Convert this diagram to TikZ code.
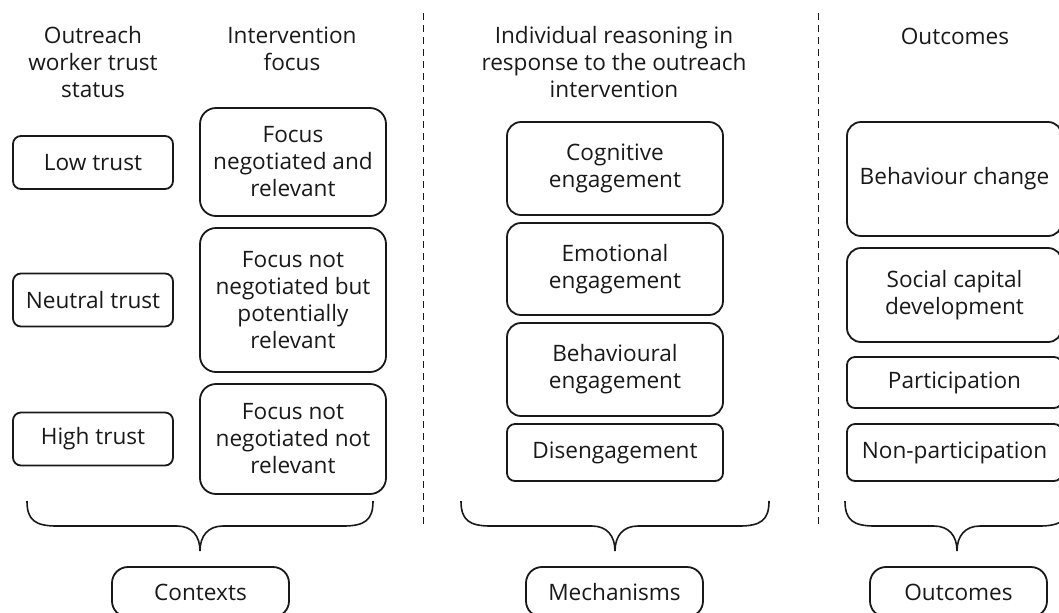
\documentclass[tikz,border=0pt]{standalone}
\usepackage{fontspec}
\setmainfont{Open Sans}
\begin{document}
\begin{tikzpicture}[x=0.5pt,y=-0.5pt,
  every node/.style={font=\fontsize{11.3}{13.5}\selectfont, text=black!90, align=center, inner sep=0pt},
  box/.style={draw=black!90, line width=0.9pt, rounded corners=#1},
  box/.default=5pt,
  hdr/.style={},
  sep/.style={draw=black!90, line width=0.9pt, dash pattern=on 3.5pt off 2.5pt},
  brace/.style={draw=black!90, line width=0.8pt}]
\useasboundingbox (0,0) rectangle (1059,612);
\clip (0,0) rectangle (1059,612);
% headers
\node[hdr] (h1) at (93,62) {Outreach\\worker trust\\status};
\node[hdr] (h2) at (292,48.5) {Intervention\\focus};
\node[hdr] (h3) at (614,62) {Individual reasoning in\\response to the outreach\\intervention};
\node[hdr] (h4) at (955,36) {Outcomes};
% separators
\draw[sep] (423.5,13) -- (423.5,528);
\draw[sep] (818.5,13) -- (818.5,528);
% contexts
\node[box=4pt, minimum width=80pt, minimum height=26.5pt] (low) at (93,162.5) {Low trust};
\node[box=4pt, minimum width=80pt, minimum height=26.5pt] (neu) at (93,300) {Neutral trust};
\node[box=4pt, minimum width=80pt, minimum height=26.5pt] (hig) at (93,439) {High trust};
\node[box=8pt, minimum width=93pt, minimum height=54pt] (f1) at (293,162) {Focus\\negotiated and\\relevant};
\node[box=8pt, minimum width=93pt, minimum height=72pt] (f2) at (293,300) {Focus not\\negotiated but\\potentially\\relevant};
\node[box=8pt, minimum width=93pt, minimum height=55pt] (f3) at (293,439) {Focus not\\negotiated not\\relevant};
% mechanisms
\node[box=7pt, minimum width=108pt, minimum height=46.5pt] (cog) at (615,168.5) {Cognitive\\engagement};
\node[box=7pt, minimum width=108pt, minimum height=46pt] (emo) at (615,269) {Emotional\\engagement};
\node[box=7pt, minimum width=108pt, minimum height=46.5pt] (beh) at (615,369.5) {Behavioural\\engagement};
\node[box=4pt, minimum width=108pt, minimum height=28.5pt] (dis) at (615,452.5) {Disengagement};
% outcomes
\node[box=7pt, minimum width=107.5pt, minimum height=57pt] (bc) at (954.5,179) {Behaviour change};
\node[box=7pt, minimum width=107.5pt, minimum height=47pt] (sc) at (954.5,295) {Social capital\\development};
\node[box=4pt, minimum width=107.5pt, minimum height=25.5pt] (par) at (954.5,382.5) {Participation};
\node[box=4pt, minimum width=107.5pt, minimum height=28.5pt] (non) at (954.5,452.5) {Non-participation};
% braces
\draw[brace] (27,501) .. controls (27,520) and (35,526) .. (57,526) -- (177,526)
  .. controls (192,526) and (200,536) .. (200,551)
  .. controls (200,536) and (208,526) .. (223,526) -- (343,526)
  .. controls (365,526) and (373,520) .. (373,501);
\draw[brace] (461,501) .. controls (461,520) and (469,526) .. (491,526) -- (592,526)
  .. controls (607,526) and (615,536) .. (615,551)
  .. controls (615,536) and (623,526) .. (638,526) -- (739,526)
  .. controls (761,526) and (769,520) .. (769,501);
\draw[brace] (845,501) .. controls (845,520) and (853,526) .. (875,526) -- (934,526)
  .. controls (949,526) and (957,536) .. (957,551)
  .. controls (957,536) and (965,526) .. (980,526) -- (1039,526)
  .. controls (1061,526) and (1069,520) .. (1069,501);
% bottom labels
\node[box=8pt, minimum width=88.5pt, minimum height=25pt] (ctx) at (200.5,592) {Contexts};
\node[box=8pt, minimum width=88.5pt, minimum height=25pt] (mec) at (614.5,592) {Mechanisms};
\node[box=8pt, minimum width=88.5pt, minimum height=25pt] (out) at (958.5,592) {Outcomes};
\end{tikzpicture}
\end{document}
